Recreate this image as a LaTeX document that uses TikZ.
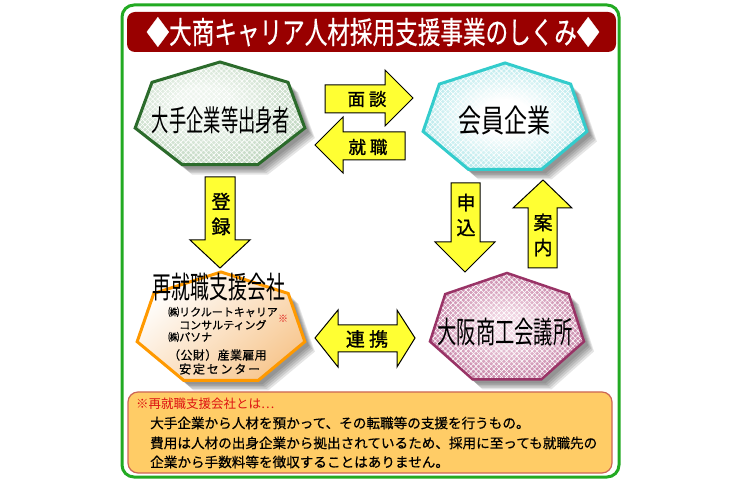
\documentclass[tikz,border=0pt]{standalone}
\usepackage{graphicx}
\usepackage{fontspec}
\setmainfont{Noto Sans CJK JP}
\newfontfamily\medfont[FakeBold=1.2]{Noto Sans CJK JP}
\newfontfamily\semifont[FakeBold=0.6]{Noto Sans CJK JP}
\usetikzlibrary{patterns.meta}
\definecolor{frameg}{HTML}{22AA22}
\definecolor{titler}{HTML}{990000}
\definecolor{arrowy}{HTML}{FFFF33}
\definecolor{infof}{HTML}{FFCC66}
\definecolor{infob}{HTML}{CC6655}
\definecolor{notered}{HTML}{DD1111}
\definecolor{gin}{HTML}{EEF5EE}\definecolor{gout}{HTML}{8DB58D}\definecolor{gline}{HTML}{2B6B2B}
\definecolor{cin}{HTML}{FFFFFF}\definecolor{cout}{HTML}{45C5CC}\definecolor{cline}{HTML}{33CCCC}
\definecolor{mgin}{HTML}{F0D4E2}\definecolor{mout}{HTML}{962461}\definecolor{mline}{HTML}{993366}
\definecolor{oend}{HTML}{F7C790}\definecolor{oline}{HTML}{FF9900}
\pgfdeclareradialshading{gshade}{\pgfpoint{-6bp}{6bp}}{color(0bp)=(gin); color(8bp)=(gin); color(52bp)=(gout)}
\pgfdeclareradialshading{cshade}{\pgfpoint{0bp}{0bp}}{color(0bp)=(cin); color(8bp)=(cin); color(52bp)=(cout)}
\pgfdeclareradialshading{mshade}{\pgfpoint{0bp}{0bp}}{color(0bp)=(mgin); color(6bp)=(mgin); color(50bp)=(mout)}
\newcommand\hept[3]{(#1) +(-90:#2 and #3) -- +(-38.571:#2 and #3) -- +(12.857:#2 and #3) -- +(64.286:#2 and #3) -- +(115.714:#2 and #3) -- +(167.143:#2 and #3) -- +(218.571:#2 and #3) -- cycle}
\newcommand\hshadow[3]{\foreach \s in {4,5.5,7,8.5,10}{\fill[black,opacity=.1,shift={(\s,\s)}] \hept{#1}{#2}{#3};}}
\newcommand\hgrid[3]{%
  \fill[pattern={Lines[angle=45,distance=3.6pt,line width=0.6pt]},pattern color=white,fill opacity=.55] \hept{#1}{#2}{#3};
  \fill[pattern={Lines[angle=-45,distance=3.6pt,line width=0.6pt]},pattern color=white,fill opacity=.55] \hept{#1}{#2}{#3};}
\tikzset{
  arrowbox/.style={fill=arrowy,draw=black,line width=1pt,line join=miter},
  arrowtext/.style={inner sep=0pt,font=\medfont\fontsize{17.5}{20}\selectfont},
  vtext/.style={inner sep=0pt,align=center,font=\medfont\fontsize{19}{25}\selectfont},
  htext/.style={inner sep=0pt},
  subtext/.style={inner sep=0pt,anchor=west,font=\semifont\fontsize{11}{13}\selectfont},
  infotext/.style={inner sep=0pt,anchor=west,font=\semifont\fontsize{13.6}{16}\selectfont},
}
\begin{document}
\begin{tikzpicture}[x=1pt,y=-1pt]
\useasboundingbox (0,0) rectangle (742,486);
\fill[white] (0,0) rectangle (742,486);
% frame and title
\draw[frameg,line width=3pt,rounded corners=12pt] (122,5) rectangle (619,477);
\fill[titler,rounded corners=8pt] (127,12) rectangle (616,52);
\node[inner sep=0pt,text=white] (title) at (373,32) {\semifont\fontsize{22.6}{24}\selectfont\scalebox{1}[1.35]{◆大商キャリア人材採用支援事業のしくみ◆}};
% green heptagon
\hshadow{220,116}{87}{54}
\shade[shading=gshade] \hept{220,116}{87}{54};
\hgrid{220,116}{87}{54}
\draw[gline,line width=3pt,line join=miter] \hept{220,116}{87}{54};
\node[htext] (src) at (221,120) {\fontsize{17.3}{20}\selectfont\scalebox{1}[1.7]{大手企業等出身者}};
% cyan heptagon
\hshadow{505,119}{84}{56}
\shade[shading=cshade] \hept{505,119}{84}{56};
\hgrid{505,119}{84}{56}
\draw[cline,line width=3pt,line join=miter] \hept{505,119}{84}{56};
\node[htext] (member) at (504,121) {\fontsize{23}{26}\selectfont\scalebox{1}[1.37]{会員企業}};
% maroon heptagon
\hshadow{507,329}{79}{56}
\shade[shading=mshade] \hept{507,329}{79}{56};
\hgrid{507,329}{79}{56}
\draw[mline,line width=2.5pt,line join=miter] \hept{507,329}{79}{56};
\node[htext] (cci) at (505,332) {\fontsize{19.3}{22}\selectfont\scalebox{1}[1.57]{大阪商工会議所}};
% orange heptagon
\hshadow{221,329}{86}{57}
\shade[top color=white,bottom color=oend,shading angle=40] \hept{221,329}{86}{57};
\draw[oline,line width=3pt,line join=miter] \hept{221,329}{86}{57};
\node[htext] (agency) at (219,287) {\fontsize{18.9}{22}\selectfont\scalebox{1}[1.6]{再就職支援会社}};
\node[subtext] (rc1) at (168,312) {㈱リクルートキャリア};
\node[subtext] (rc2) at (179,325) {コンサルティング};
\node[inner sep=0pt,text=notered,font=\fontsize{10}{12}\selectfont] (mark) at (283,319) {※};
\node[subtext] (pasona) at (168,337) {㈱パソナ};
\node[subtext,font=\semifont\fontsize{12}{14}\selectfont\addfontfeatures{LetterSpace=3}] (jeed1) at (168,355) {（公財）産業雇用};
\node[subtext,font=\semifont\fontsize{12}{14}\selectfont\addfontfeatures{LetterSpace=15}] (jeed2) at (179,369) {安定センター};
% arrows
\draw[arrowbox] (325,85) -- (385,85) -- (385,70) -- (413,98) -- (385,126) -- (385,113) -- (325,113) -- cycle;
\node[arrowtext] (interview) at (367,99) {面 談};
\draw[arrowbox] (405,132) -- (343,132) -- (343,117) -- (315,145) -- (343,173) -- (343,160) -- (405,160) -- cycle;
\node[arrowtext] (hire) at (368,147) {就 職};
\draw[arrowbox] (205,177) -- (235,177) -- (235,240) -- (250,240) -- (220,268) -- (190,240) -- (205,240) -- cycle;
\node[vtext] (register) at (221,214) {登\\録};
\draw[arrowbox] (451,183) -- (480,183) -- (480,242) -- (495,242) -- (465,272) -- (435,242) -- (451,242) -- cycle;
\node[vtext] (apply) at (466,215) {申\\込};
\draw[arrowbox] (528,268) -- (557,268) -- (557,208) -- (572,208) -- (543,180) -- (513,208) -- (528,208) -- cycle;
\node[vtext] (guide) at (543,235) {案\\内};
\draw[arrowbox] (315,338) -- (338,310) -- (338,325) -- (397,325) -- (397,310) -- (415,338) -- (397,367) -- (397,352) -- (338,352) -- (338,367) -- cycle;
\node[arrowtext,font=\medfont\fontsize{19}{22}\selectfont] (link) at (367,339) {連 携};
% info box
\filldraw[fill=infof,draw=infob,line width=1.2pt,rounded corners=10pt] (128,392) rectangle (612,473);
\node[inner sep=0pt,anchor=west,text=notered,font=\fontsize{12.5}{15}\selectfont] (notehead) at (136,404) {※再就職支援会社とは…};
\node[infotext] (note1) at (150,423) {大手企業から人材を預かって、その転職等の支援を行うもの。};
\node[infotext] (note2) at (150,443) {費用は人材の出身企業から拠出されているため、採用に至っても就職先の};
\node[infotext] (note3) at (150,462) {企業から手数料等を徴収することはありません。};
\end{tikzpicture}
\end{document}
